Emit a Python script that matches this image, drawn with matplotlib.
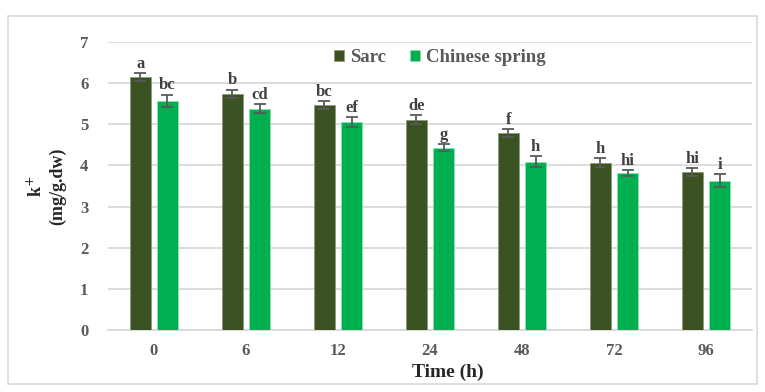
import numpy as np
import matplotlib.pyplot as plt
from matplotlib.patches import Rectangle

plt.rcParams['font.family'] = ['Liberation Serif', 'DejaVu Serif']

# Data
times = ["0", "6", "12", "24", "48", "72", "96"]
sarc = [6.15, 5.74, 5.47, 5.11, 4.79, 4.06, 3.84]
sarc_err = [0.10, 0.10, 0.10, 0.11, 0.10, 0.11, 0.10]
sarc_letters = ["a", "b", "bc", "de", "f", "h", "hi"]
cs = [5.57, 5.38, 5.06, 4.43, 4.09, 3.81, 3.63]
cs_err = [0.15, 0.11, 0.12, 0.08, 0.13, 0.07, 0.16]
cs_letters = ["bc", "cd", "ef", "g", "h", "hi", "i"]

gray = "#595959"
x = np.arange(len(times))
w = 0.23
off = 0.148

fig = plt.figure(figsize=(7.65, 3.92), dpi=100)
ax = fig.add_axes([0.141, 0.158, 0.842, 0.735])

# outer chart border
fig.patches.append(Rectangle((0.011, 0.02), 0.978, 0.94, transform=fig.transFigure,
                             fill=False, edgecolor="#d9d9d9", linewidth=1.2))

ax.bar(x - off, sarc, w, color="#3b5323", edgecolor="#8a9a7a", linewidth=0.6,
       label="Sarc", zorder=3)
ax.bar(x + off, cs, w, color="#00b050", edgecolor="#8fe0b0", linewidth=0.6,
       label="Chinese spring", zorder=3)
ax.errorbar(x - off, sarc, yerr=sarc_err, fmt="none", ecolor=gray, elinewidth=1.3,
            capsize=4, capthick=1.3, zorder=4)
ax.errorbar(x + off, cs, yerr=cs_err, fmt="none", ecolor=gray, elinewidth=1.3,
            capsize=4, capthick=1.3, zorder=4)

for i in range(len(times)):
    ax.text(x[i] - off, sarc[i] + sarc_err[i] + 0.03, sarc_letters[i], ha="center",
            va="bottom", fontsize=12, fontweight="bold", color="#404040")
    ax.text(x[i] + off, cs[i] + cs_err[i] + 0.03, cs_letters[i], ha="center",
            va="bottom", fontsize=12, fontweight="bold", color="#404040")

ax.set_xlim(-0.5, 6.5)
ax.set_ylim(0, 7)
ax.set_yticks(range(8))
ax.set_xticks(x)
ax.set_xticklabels(times)
ax.grid(axis="y", color="#d9d9d9", linewidth=1.3, zorder=0)
for s in ["top", "right", "left"]:
    ax.spines[s].set_visible(False)
ax.spines["bottom"].set_color("#d9d9d9")
ax.spines["bottom"].set_linewidth(1.3)
ax.tick_params(axis="x", length=0, labelsize=12, labelcolor=gray, pad=9)
ax.tick_params(axis="y", length=0, labelsize=12, labelcolor=gray, pad=14)
for lab in ax.get_xticklabels() + ax.get_yticklabels():
    lab.set_fontweight("bold")

ax.set_xlabel("Time (h)", fontsize=14, fontweight="bold", color="#262626")
ax.xaxis.set_label_coords(0.527, -0.115)
ax.set_ylabel("k$^{+}$\n(mg/g.dw)", fontsize=13, fontweight="bold", color="#262626",
              labelpad=10)

leg = ax.legend(loc="upper center", bbox_to_anchor=(0.515, 1.0), ncol=2, frameon=False,
                fontsize=13.5, handlelength=0.55, handleheight=0.55, handletextpad=0.3,
                columnspacing=1.3, borderaxespad=0.0)
for t in leg.get_texts():
    t.set_color(gray)
    t.set_fontweight("bold")

fig.savefig("out.png", dpi=100)
